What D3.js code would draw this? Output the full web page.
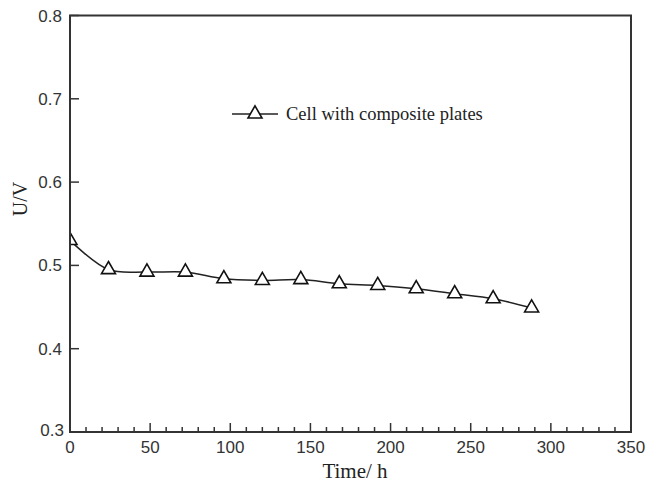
<!DOCTYPE html>
<html>
<head>
<meta charset="utf-8">
<script src="https://cdn.jsdelivr.net/npm/d3@7"></script>
<style>
  body { margin: 0; background: #fff; }
  svg { display: block; }
</style>
</head>
<body>
<svg id="chart"></svg>
<script>
// data
const timeHours = [0, 24, 48, 72, 96, 120, 144, 168, 192, 216, 240, 264, 288];
const voltage = [0.53, 0.495, 0.492, 0.492, 0.484, 0.482, 0.483, 0.478, 0.476, 0.472, 0.466, 0.460, 0.449];
const xTicks = [0, 50, 100, 150, 200, 250, 300, 350];
const yTicks = [0.3, 0.4, 0.5, 0.6, 0.7, 0.8];
const seriesName = "Cell with composite plates";

const W = 664, H = 484;
const margin = {top: 15.5, right: 33, bottom: 52, left: 70};
const width = W - margin.left - margin.right,
      height = H - margin.top - margin.bottom;

const svg = d3.select("#chart").attr("width", W).attr("height", H);
const g = svg.append("g").attr("transform", `translate(${margin.left},${margin.top})`);

const x = d3.scaleLinear().domain([0, 350]).range([0, width]);
const y = d3.scaleLinear().domain([0.3, 0.8]).range([height, 0]);

const axisColor = "#333";
const sans = "'Liberation Sans', Arial, sans-serif";
const serif = "'Liberation Serif', 'Times New Roman', serif";

// clip markers to the plot area
svg.append("defs").append("clipPath").attr("id", "plot")
  .append("rect").attr("width", width).attr("height", height);

// bottom axis: major ticks every 50, minor every 10, pointing inside
const xMinor = d3.range(0, 351, 10);
g.append("g").selectAll("line")
    .data(xMinor)
    .join("line")
    .attr("x1", d => x(d)).attr("x2", d => x(d))
    .attr("y1", height)
    .attr("y2", d => d % 50 === 0 ? height - 9 : height - 5)
    .attr("stroke", axisColor).attr("stroke-width", 1.5);

g.append("g").selectAll("text")
    .data(xTicks)
    .join("text")
    .attr("x", d => x(d))
    .attr("y", height + 21)
    .attr("text-anchor", "middle")
    .style("font-family", sans).style("font-size", "17px").style("fill", axisColor)
    .text(d => d);

// left axis
g.append("g").selectAll("line")
    .data(yTicks)
    .join("line")
    .attr("x1", 0).attr("x2", 9)
    .attr("y1", d => y(d)).attr("y2", d => y(d))
    .attr("stroke", axisColor).attr("stroke-width", 1.5);

g.append("g").selectAll("text")
    .data(yTicks)
    .join("text")
    .attr("x", d => d === 0.3 ? -6 : -8)
    .attr("y", d => d === 0.3 ? y(d) + 4 : y(d) + 6)
    .attr("text-anchor", "end")
    .style("font-family", sans).style("font-size", "17px").style("fill", axisColor)
    .text(d => d3.format(".1f")(d));

// axis titles
svg.append("text")
    .attr("x", 355)
    .attr("y", 478)
    .attr("text-anchor", "middle")
    .style("font-family", serif).style("font-size", "21px").style("fill", "#222")
    .text("Time/ h");

svg.append("text")
    .attr("transform", "translate(27,199) rotate(-90)")
    .attr("text-anchor", "middle")
    .style("font-family", serif).style("font-size", "20px").style("fill", "#222")
    .text("U/V");

// curve
const data = timeHours.map((t, i) => ({t, v: voltage[i]}));
const line = d3.line()
    .x(d => x(d.t))
    .y(d => y(d.v))
    .curve(d3.curveCatmullRom.alpha(0.5));

const plot = g.append("g").attr("clip-path", "url(#plot)");

plot.append("path")
    .datum(data)
    .attr("fill", "none")
    .attr("stroke", "#222")
    .attr("stroke-width", 1.5)
    .attr("d", line);

const tri = d3.symbol().type(d3.symbolTriangle).size(85);
plot.append("g").selectAll("path")
    .data(data)
    .join("path")
    .attr("transform", d => `translate(${x(d.t)},${y(d.v)})`)
    .attr("d", tri)
    .attr("fill", "#fff")
    .attr("stroke", "#111")
    .attr("stroke-width", 1.6);

// frame
g.append("rect")
    .attr("width", width).attr("height", height)
    .attr("fill", "none").attr("stroke", axisColor).attr("stroke-width", 2);

// legend
const lg = svg.append("g").attr("transform", "translate(232,114)");
lg.append("line").attr("x1", 0).attr("x2", 46).attr("y1", 0).attr("y2", 0)
    .attr("stroke", "#222").attr("stroke-width", 1.5);
lg.append("path").attr("transform", "translate(23,0)").attr("d", tri)
    .attr("fill", "#fff").attr("stroke", "#111").attr("stroke-width", 1.6);
lg.append("text")
    .attr("x", 54).attr("y", 6)
    .style("font-family", serif).style("font-size", "18.5px").style("fill", "#222")
    .text(seriesName);
</script>
</body>
</html>
